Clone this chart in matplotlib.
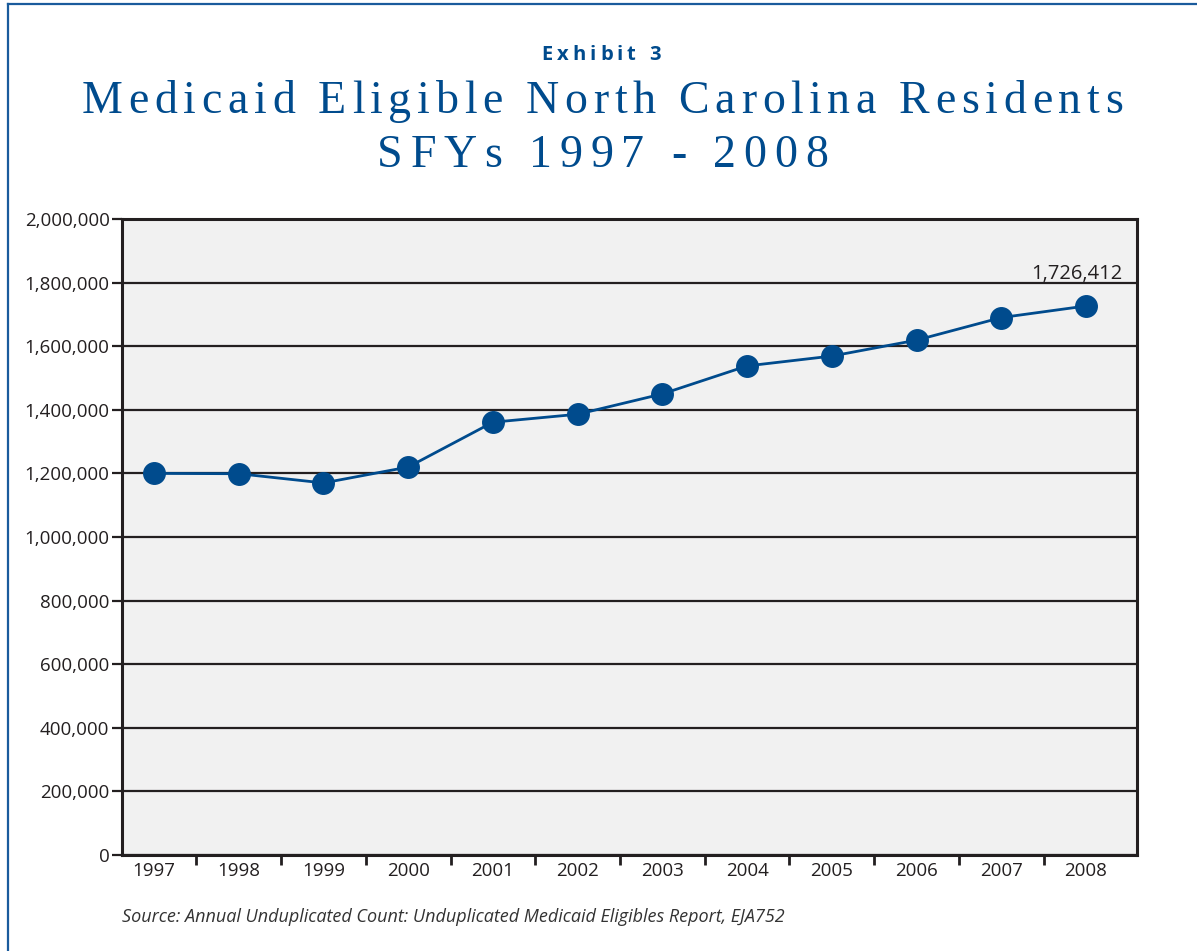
import matplotlib as mpl
mpl.use('Agg')
import matplotlib.pyplot as plt
from matplotlib.lines import Line2D

years = ['1997', '1998', '1999', '2000', '2001', '2002',
         '2003', '2004', '2005', '2006', '2007', '2008']
eligibles = [1200000, 1199000, 1170000, 1220000, 1361000, 1386000,
             1450000, 1538000, 1569000, 1619000, 1690000, 1726412]

W, H = 1197, 951
navy = '#004b8d'
border_blue = '#1a5b9c'
dark = '#231f20'

plt.rcParams['font.family'] = ['Open Sans', 'DejaVu Sans']

fig = plt.figure(figsize=(W / 100, H / 100), dpi=100)

# blue frame (only top and left edges are visible in the page crop)
fig.add_artist(Line2D([8 / W, 8 / W], [0, 1 - 4 / H], color=border_blue, lw=1.6))
fig.add_artist(Line2D([8 / W, 1], [1 - 4 / H, 1 - 4 / H], color=border_blue, lw=1.6))


def spaced_text(s, xc, ybase, width, **kw):
    # letter-spaced text: stretch s to the given pixel width, centred on xc
    r = fig.canvas.get_renderer()

    def w(t):
        tt = fig.text(0, 0, t, **kw)
        wd = tt.get_window_extent(r).width
        tt.remove()
        return wd

    track = (width - w(s)) / (len(s) - 1)
    x0 = xc - width / 2
    for i, c in enumerate(s):
        if c == ' ':
            continue
        xi = x0 + w(s[:i + 1]) - w(c) + track * i
        fig.text(xi / W, 1 - ybase / H, c, ha='left', va='baseline', **kw)


spaced_text('Exhibit 3', 601, 60, 119, fontsize=14.5, fontweight='bold',
            color=navy, family='Open Sans')
spaced_text('Medicaid Eligible North Carolina Residents', 602.5, 113, 1041,
            fontsize=33, color=navy, family='Liberation Serif')
spaced_text('SFYs 1997 - 2008', 602.5, 167, 451,
            fontsize=33, color=navy, family='Liberation Serif')

ax = fig.add_axes([122 / W, (H - 855) / H, (1137 - 122) / W, (855 - 219) / H])
ax.set_facecolor('#f1f1f1')

x = list(range(len(years)))
ax.plot(x, eligibles, '-o', color=navy, lw=2.0, ms=15.5, zorder=3)

ax.set_xlim(-0.378, 11.602)
ax.set_ylim(0, 2000000)

ax.set_xticks(x)
ax.set_xticklabels(years)
ax.set_xticks([i + 0.5 for i in range(len(years) - 1)], minor=True)
ax.tick_params(axis='x', which='major', length=0, pad=5, labelsize=13.5, labelcolor=dark)
ax.tick_params(axis='x', which='minor', length=7, width=2, color=dark, direction='out')

ax.set_yticks(range(0, 2000001, 200000))
ax.set_yticklabels([f'{v:,}' for v in range(0, 2000001, 200000)])
ax.tick_params(axis='y', length=7, width=1.6, color=dark, pad=2, labelsize=13.5, labelcolor=dark)

ax.yaxis.grid(True, color=dark, lw=1.6)
ax.set_axisbelow(True)
for sp in ax.spines.values():
    sp.set_color(dark)
    sp.set_linewidth(2.2)

ax.annotate(f'{eligibles[-1]:,}', (x[-1], eligibles[-1]), xytext=(-6.5, 19.5),
            textcoords='offset points', ha='center', va='baseline',
            fontsize=14.5, color=dark)

fig.text(122 / W, 1 - 922 / H,
         'Source: Annual Unduplicated Count: Unduplicated Medicaid Eligibles Report, EJA752',
         fontsize=13, style='italic', color='#333333', va='baseline')

fig.savefig('out.png', dpi=100)
